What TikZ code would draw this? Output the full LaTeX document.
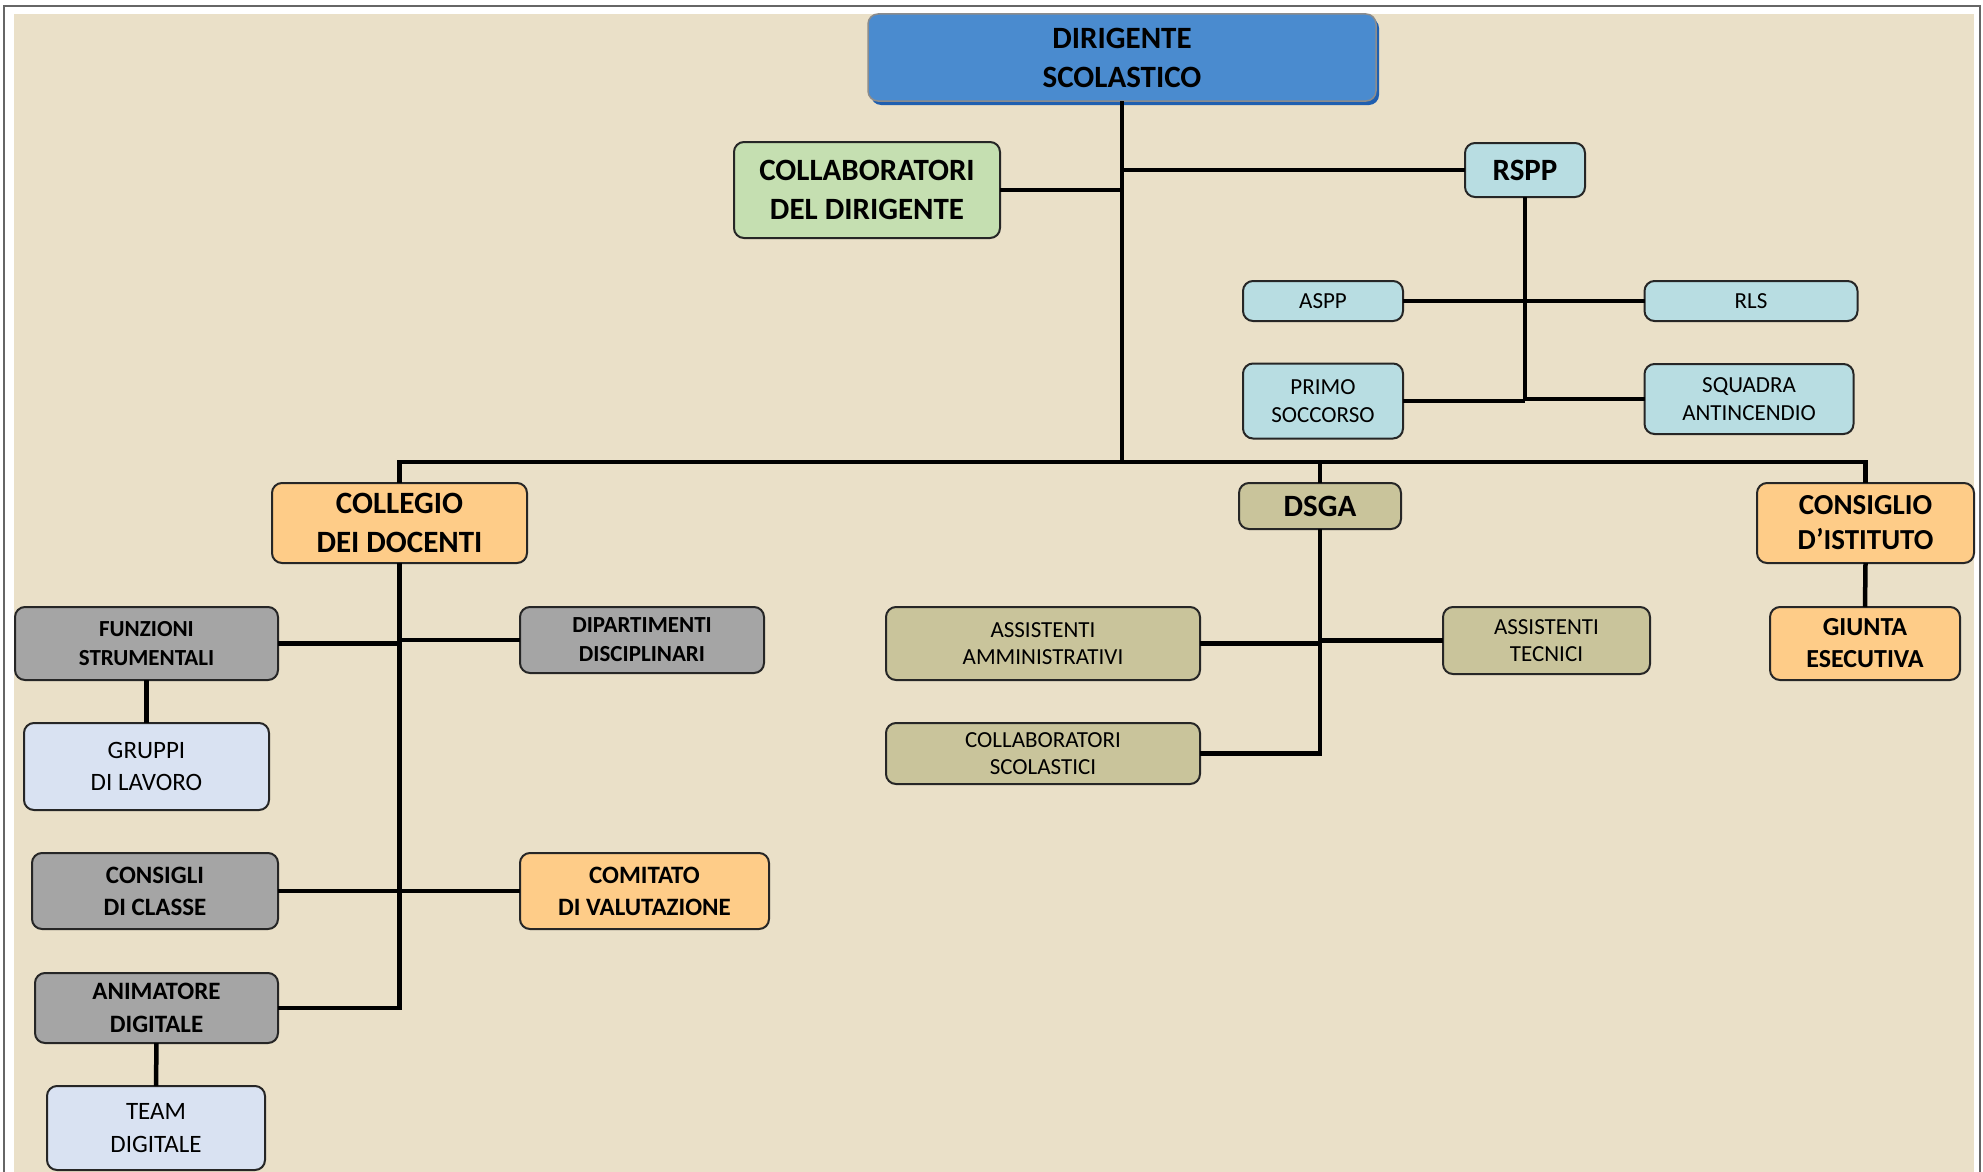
\documentclass[tikz,border=0pt]{standalone}
\usepackage{fontspec}
\setmainfont{Carlito}
\usetikzlibrary{shadows}
\definecolor{bgbeige}{HTML}{EAE0C8}
\definecolor{cblue}{HTML}{4A8BCF}
\definecolor{cblueedge}{HTML}{1F5FB0}
\definecolor{cgreen}{HTML}{C5DFB1}
\definecolor{ccyan}{HTML}{B8DDE2}
\definecolor{corange}{HTML}{FECC88}
\definecolor{cgrey}{HTML}{A5A5A5}
\definecolor{colive}{HTML}{C9C49B}
\definecolor{cpale}{HTML}{D9E2F2}
\newcommand{\myfs}[2]{\fontsize{#1}{#2}\selectfont}
\tikzset{
  box/.style={draw=black!85, line width=2pt, rounded corners=10pt, align=center, inner sep=0pt, outer sep=0pt},
  conn/.style={line width=4.5pt, black, line join=miter},
  bigb/.style={font={\myfs{31}{39}\bfseries}},
  midb/.style={font={\myfs{29}{37}\bfseries}},
  smb/.style={font={\myfs{25}{32}\bfseries}},
  tinyb/.style={font={\myfs{23}{29}\bfseries}},
  reg/.style={font={\myfs{23}{28}}},
  regl/.style={font={\myfs{25}{33}}}
}
\begin{document}
\begin{tikzpicture}[x=1pt,y=-1pt]
\useasboundingbox (0,0) rectangle (1983,1172);
\fill[white] (0,0) rectangle (1983,1172);
\draw[line width=2pt, black!60] (4,6) rectangle (1980,1180);
\fill[bgbeige] (14,14) rectangle (1974,1172);

% top
\node[box, fill=cblue, draw=black!45, line width=1.5pt, bigb, minimum width=508, minimum height=87,
  drop shadow={shadow xshift=3pt, shadow yshift=-4pt, fill=cblueedge, opacity=1}] (dir) at (1122,57.5) {DIRIGENTE\\SCOLASTICO};
\node[box, fill=cgreen, bigb, minimum width=266, minimum height=96] (collab) at (867,190) {COLLABORATORI\\DEL DIRIGENTE};
\node[box, fill=ccyan, bigb, minimum width=120, minimum height=54] (rspp) at (1525,170) {RSPP};
\node[box, fill=ccyan, reg, minimum width=160, minimum height=40] (aspp) at (1323,301) {ASPP};
\node[box, fill=ccyan, reg, minimum width=213, minimum height=40] (rls) at (1751,301) {RLS};
\node[box, fill=ccyan, reg, minimum width=160, minimum height=75] (primo) at (1323,401) {PRIMO\\SOCCORSO};
\node[box, fill=ccyan, reg, minimum width=209, minimum height=70] (squadra) at (1749,399) {SQUADRA\\ANTINCENDIO};

\coordinate (bus) at (1122,462);

% second level
\node[box, fill=corange, bigb, minimum width=255, minimum height=80] (collegio) at (399.5,523) {COLLEGIO\\DEI DOCENTI};
\node[box, fill=colive, bigb, minimum width=162, minimum height=46] (dsga) at (1320,506) {DSGA};
\node[box, fill=corange, midb, font={\myfs{29}{35}\bfseries}, minimum width=217, minimum height=80] (consiglio) at (1865.5,523) {CONSIGLIO\\D’ISTITUTO};
\node[box, fill=corange, font={\myfs{26}{32}\bfseries}, minimum width=190, minimum height=73] (giunta) at (1865,643.5) {GIUNTA\\ESECUTIVA};

% DSGA branch
\node[box, fill=colive, reg, font={\myfs{23}{27}}, minimum width=314, minimum height=73] (amm) at (1043,643.5) {ASSISTENTI\\AMMINISTRATIVI};
\node[box, fill=colive, reg, font={\myfs{23}{27}}, minimum width=207, minimum height=67] (tec) at (1546.5,640.5) {ASSISTENTI\\TECNICI};
\node[box, fill=colive, reg, font={\myfs{23}{27}}, minimum width=314, minimum height=61] (collsc) at (1043,753.5) {COLLABORATORI\\SCOLASTICI};

% Collegio branch
\node[box, fill=cgrey, tinyb, minimum width=263, minimum height=73] (funz) at (146.5,643.5) {FUNZIONI\\STRUMENTALI};
\node[box, fill=cgrey, tinyb, minimum width=244, minimum height=66] (dip) at (642,640) {DIPARTIMENTI\\DISCIPLINARI};
\node[box, fill=cpale, regl, font={\myfs{25}{32}}, minimum width=245, minimum height=87] (gruppi) at (146.5,766.5) {GRUPPI\\DI LAVORO};
\node[box, fill=cgrey, smb, minimum width=246, minimum height=76] (cons) at (155,891) {CONSIGLI\\DI CLASSE};
\node[box, fill=corange, smb, minimum width=249, minimum height=76] (comitato) at (644.5,891) {COMITATO\\DI VALUTAZIONE};
\node[box, fill=cgrey, smb, font={\myfs{25}{33}\bfseries}, minimum width=243, minimum height=70] (anim) at (156.5,1008) {ANIMATORE\\DIGITALE};
\node[box, fill=cpale, regl, minimum width=218, minimum height=84] (team) at (156,1128) {TEAM\\DIGITALE};

% connectors
\draw[conn] (dir.south) -- (bus);
\draw[conn] (collab.east) -- (collab.east -| dir.south);
\draw[conn] (rspp.west) -- (rspp.west -| dir.south);
\draw[conn] (rspp.south) -- (rspp.south |- primo.east);
\draw[conn] (aspp.east) -- (rls.west);
\draw[conn] (primo.east) -- (primo.east -| rspp.south);
\draw[conn] (squadra.west) -- (squadra.west -| rspp.south);
\draw[conn] (collegio.north) |- (consiglio.north |- bus) -- (consiglio.north);
\draw[conn] (dsga.north) -- (dsga.north |- bus);
\draw[conn] (consiglio.south) -- (giunta.north);
\draw[conn] (dsga.south) |- (collsc.east);
\draw[conn] (amm.east) -- (amm.east -| dsga.south);
\draw[conn] (tec.west) -- (tec.west -| dsga.south);
\draw[conn] (collegio.south) |- (anim.east);
\draw[conn] (funz.east) -- (funz.east -| collegio.south);
\draw[conn] (dip.west) -- (dip.west -| collegio.south);
\draw[conn] (funz.south) -- (gruppi.north);
\draw[conn] (cons.east) -- (comitato.west);
\draw[conn] (anim.south) -- (team.north);
\end{tikzpicture}
\end{document}
